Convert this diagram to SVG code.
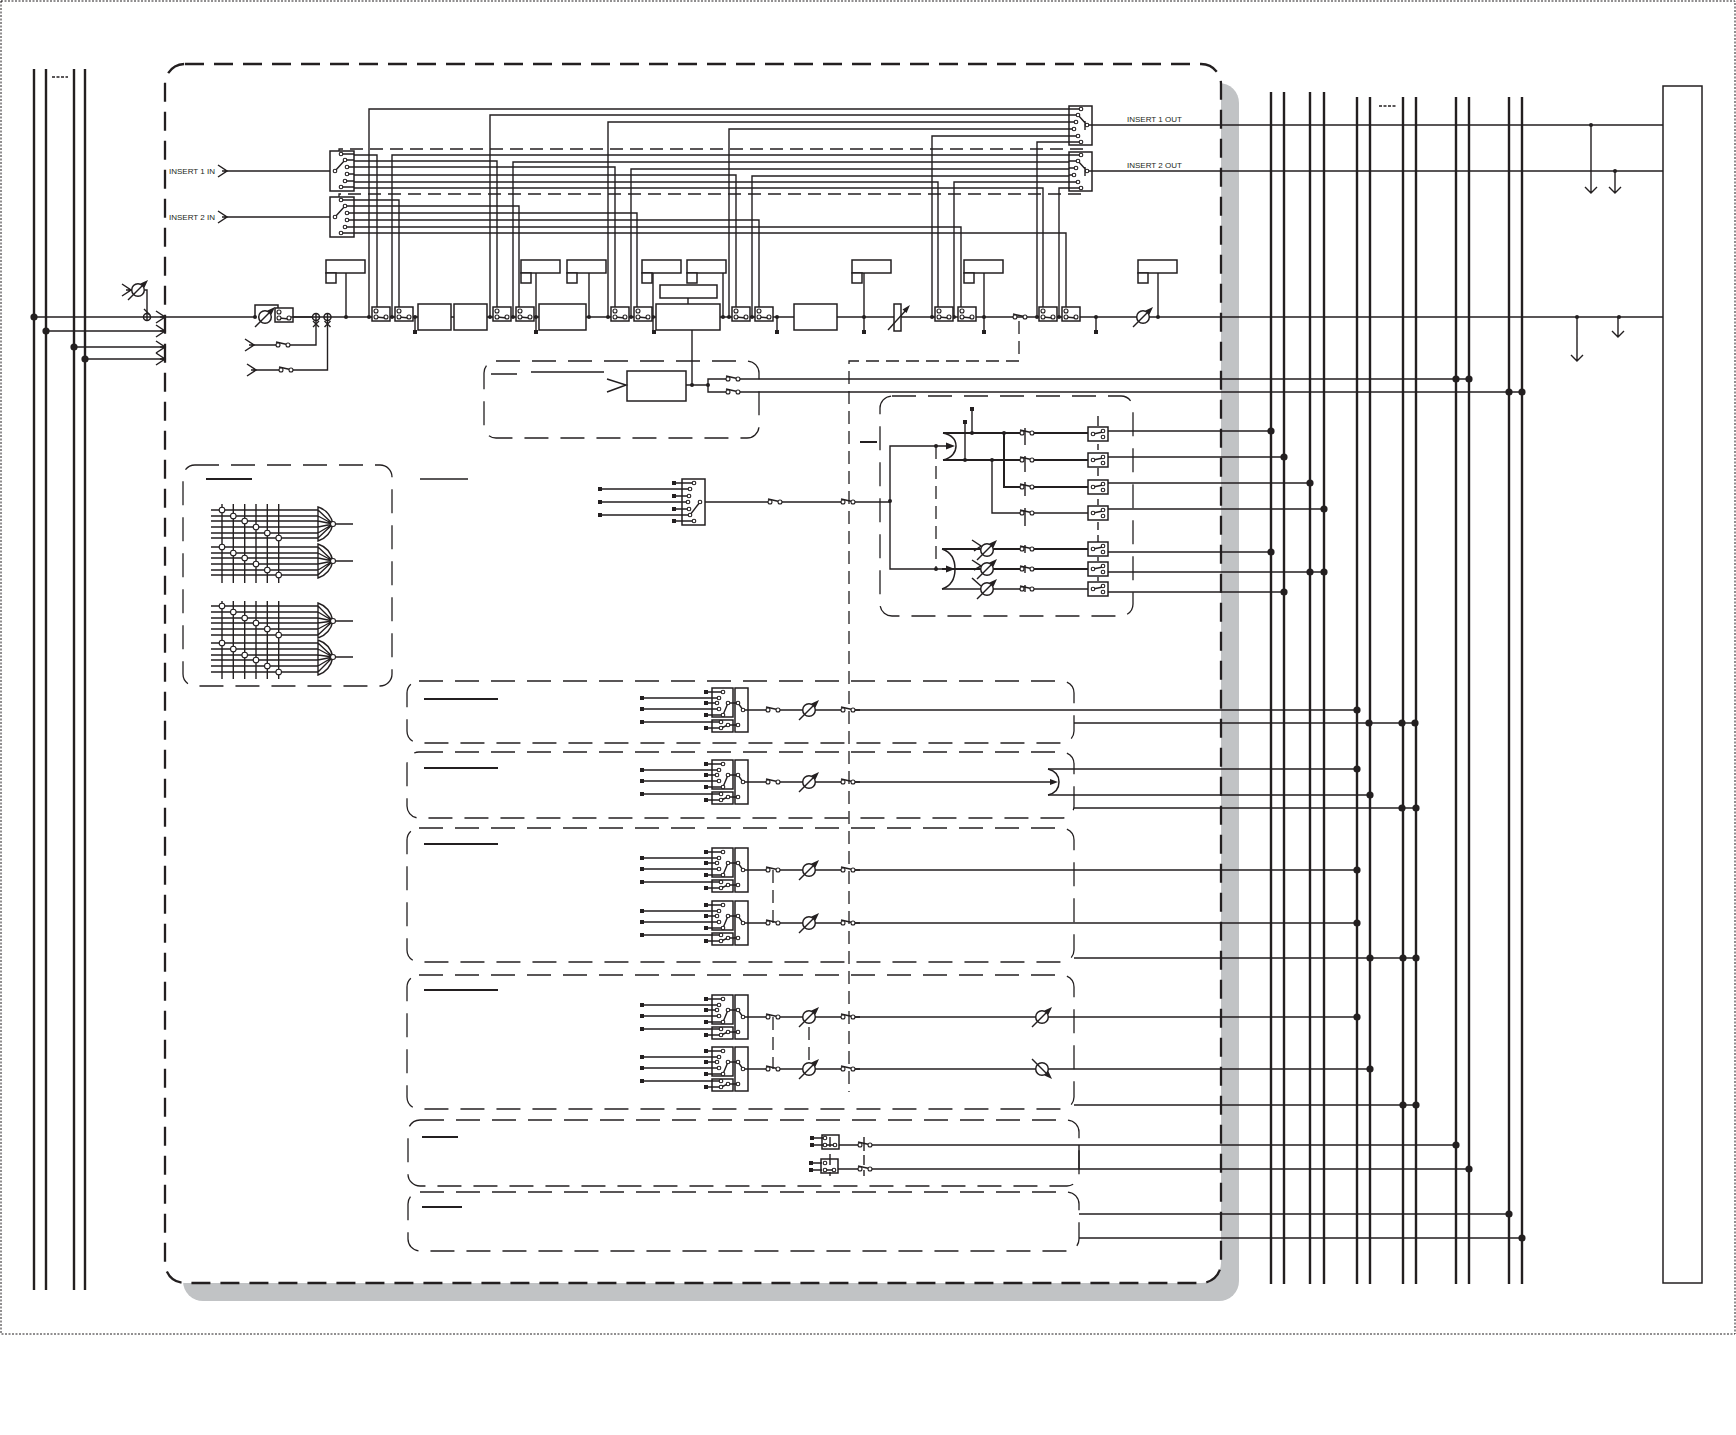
<svg xmlns="http://www.w3.org/2000/svg" width="1736" height="1435" viewBox="0 0 1736 1435">
<style>
text{font-family:"Liberation Sans",Arial,sans-serif;font-size:8px;fill:#231f20}
.l{fill:none;stroke:#231f20;stroke-width:1.4}
.m{fill:none;stroke:#231f20;stroke-width:1.6}
.h{fill:none;stroke:#231f20;stroke-width:2}
.bus{fill:none;stroke:#231f20;stroke-width:2.4}
.bx{fill:#fff;stroke:#231f20;stroke-width:1.5}
.nf{fill:none;stroke:#231f20;stroke-width:1.5}
.dash{fill:none;stroke:#231f20;stroke-width:1.3;stroke-dasharray:24 12}
.dsh2{fill:none;stroke:#231f20;stroke-width:1.3;stroke-dasharray:13 7}
.t{fill:#fff;stroke:#231f20;stroke-width:1.1}
.k{fill:#231f20}
</style>
<defs>
<circle id="d" r="2" class="k"/>
<circle id="D" r="3.6" class="k"/>
<rect id="q" x="-2" y="-2" width="4" height="4" class="k"/>
<path id="chev" class="nf" d="M-9-6L0 0L-9 6M-5 0H0"/>
<g id="sw"><path class="l" d="M-2-3L8-.8"/><circle r="2" class="t"/><circle cx="10" r="2" class="t"/></g>
<g id="sb"><rect width="18" height="14" class="bx"/><path class="l" d="M4 10L14 11"/><circle cx="4" cy="4" r="2" class="t"/><circle cx="4" cy="10" r="2" class="t"/><circle cx="14" cy="10" r="2" class="t"/></g>
<g id="fad"><circle r="6.3" class="bx"/><path class="l" d="M-10 10L7-7"/><path class="k" d="M10-10L2.500-6.500L6.500-2.500Z"/></g>
<g id="ins"><rect width="24" height="40" class="bx"/><path class="l" d="M11 3H24M15 9H24M17 16H24M17 23H24M15 30H24M11 36H24M5 20L15 9"/><circle cx="11" cy="3" r="1.8" class="t"/><circle cx="15" cy="9" r="1.8" class="t"/><circle cx="17" cy="16" r="1.800" class="t"/><circle cx="17" cy="23" r="1.800" class="t"/><circle cx="15" cy="30" r="1.800" class="t"/><circle cx="11" cy="36" r="1.8" class="t"/><circle cx="5" cy="20" r="1.8" class="t"/></g>
<g id="outs"><rect width="23" height="39" class="bx"/><path class="l" d="M0 3H12M0 9H9M0 16H7M0 23H5M0 30H9M0 36H12M18 19L9 9M18 19H23M16 15V24"/><circle cx="12" cy="3" r="1.8" class="t"/><circle cx="9" cy="9" r="1.8" class="t"/><circle cx="7" cy="16" r="1.8" class="t"/><circle cx="5" cy="23" r="1.8" class="t"/><circle cx="9" cy="30" r="1.8" class="t"/><circle cx="12" cy="36" r="1.8" class="t"/><circle cx="18" cy="19" r="1.8" class="t"/></g>
<g id="mt"><rect width="39" height="13" class="bx"/><rect y="13" width="10" height="10" class="bx"/></g>
<g id="ob"><rect width="20" height="14" class="bx"/><path class="l" d="M5 7L15 5"/><circle cx="5" cy="7" r="1.8" class="t"/><circle cx="15" cy="4" r="1.8" class="t"/><circle cx="15" cy="10" r="1.8" class="t"/></g>
<g id="strip">
<path class="l" d="M642-12H719M642-1H719M642 12H721M706-18H723M706-7H717M706 5H723M706 18H721"/>
<use href="#q" x="642" y="-12"/><use href="#q" x="642" y="-1"/><use href="#q" x="642" y="12"/><use href="#q" x="706" y="-18"/><use href="#q" x="706" y="-7"/><use href="#q" x="706" y="5"/><use href="#q" x="706" y="18"/>
<rect x="712" y="-22" width="21" height="29" class="nf"/><rect x="712" y="10" width="21" height="12" class="nf"/><rect x="735" y="-22" width="13" height="44" class="nf"/>
<path class="l" d="M723 5L728-7H738L743 0H768M721 18L728 15H738"/>
<circle cx="723" cy="-18" r="1.8" class="t"/><circle cx="719" cy="-12" r="1.8" class="t"/><circle cx="717" cy="-7" r="1.8" class="t"/><circle cx="719" cy="-1" r="1.8" class="t"/><circle cx="723" cy="5" r="1.8" class="t"/><circle cx="728" cy="-7" r="1.8" class="t"/><circle cx="738" cy="-7" r="1.8" class="t"/><circle cx="743" r="1.8" class="t"/><circle cx="721" cy="12" r="1.8" class="t"/><circle cx="721" cy="18" r="1.8" class="t"/><circle cx="728" cy="15" r="1.8" class="t"/><circle cx="738" cy="15" r="1.8" class="t"/>
<path class="l" d="M778 0H843M853 0H860"/>
<use href="#sw" x="768"/><use href="#fad" x="809"/><use href="#sw" x="843"/>
</g>
</defs>
<rect width="1736" height="1435" fill="#fff"/>
<rect id="page-border" x="1" y="1" width="1734" height="1333" fill="none" stroke="#231f20" stroke-width="1" stroke-dasharray="2 1.500"/>
<g id="shadow"><rect x="183" y="83" width="1056" height="1218" rx="20" fill="#c1c3c5"/></g>
<g id="main-frame"><rect x="165" y="64" width="1056" height="1219" rx="20" fill="#fff" stroke="#231f20" stroke-width="2.300" stroke-dasharray="19 10"/></g>
<g id="group-frames">
<rect x="484" y="361" width="275" height="77" rx="12" class="dash"/>
<rect x="880" y="396" width="253" height="220" rx="12" class="dash"/>
<rect x="183" y="465" width="209" height="221" rx="12" class="dash"/>
<rect x="407" y="681" width="667" height="62" rx="12" class="dash"/>
<rect x="407" y="752" width="667" height="66" rx="12" class="dash"/>
<rect x="407" y="828" width="667" height="134" rx="12" class="dash"/>
<rect x="407" y="975" width="667" height="134" rx="12" class="dash"/>
<rect x="408" y="1120" width="671" height="66" rx="12" class="dash"/>
<rect x="408" y="1192" width="671" height="59" rx="12" class="dash"/>
</g>
<g id="connectors">
<path class="bus" d="M34 69V1290M46 69V1290M74 69V1290M85 69V1290M1271 92V1284M1284 92V1284M1310 92V1284M1324 92V1284M1357 97V1284M1370 97V1284M1403 97V1284M1416 97V1284M1456 97V1284M1469 97V1284M1509 97V1284M1522 97V1284"/>
<path d="M52 77H68M1379 106H1396" fill="none" stroke="#231f20" stroke-width="1.300" stroke-dasharray="3 1.500"/>
<path class="l" d="M34 317H255M46 331H165M74 347H165M85 359H165"/>
<path class="l" d="M278 317H1158M145 290H147V317"/>
<path class="m" d="M1158 317H1663M1092 125H1663M1092 171H1663"/>
<path class="l" d="M254 345H278M288 345H316V321M256 370H281M291 370H327.500V321"/>
<path class="l" d="M227 171H335M227 217H335"/>
<path class="l" d="M369 317V109H1075M490 317V115H1078M608 317V122H1076M729 317V129H1074M932 317V136H1078M1037 317V142H1081"/>
<path class="l" d="M354 155H377V311M354 161H497V311M354 167H615V311M354 175H736V311M354 182H938V311M354 188H1043V311"/>
<path class="l" d="M392 317V155H1081M513 317V162H1078M631 317V169H1076M752 317V176H1074M954 317V182H1078M1059 317V188H1081"/>
<path class="l" d="M354 200H399V311M354 206H519V311M354 213H637V311M354 220H759V311M354 227H961V311M354 233H1066V311"/>
<path class="dsh2" d="M339 158V149H1083V142M339 205V194H1084V188"/>
<path class="l" d="M346 273V317M536 273V330M589 273V317M653 273V330M723 273V317M864 273V330M984 273V330M1158 273V317M415 317V330M777 317V330M1096 317V330M688 298V304M692 330V385"/>
<path class="l" d="M692 385H686M692 385H708V379H726M708 385V392H726M604 372H531M517 374H491"/>
<path class="m" d="M738 379H1469M738 392H1522"/>
<path class="dsh2" d="M1019 321V361H849V1092"/>
<path class="l" d="M600 489H690M600 502H688M600 515H690M674 483H694M674 496H689M674 509H689M674 521H694M705 502H770M780 502H843M853 502H890"/>
<path class="l" d="M936 446H890V569H936"/>
<path class="h" d="M860 442H877"/>
<path class="dsh2" d="M936 446V569"/>
<path class="l" d="M936 446H951M936 569H951"/>
<path class="k" d="M955 446L946 442.500V449.500ZM955 569L946 565.500V572.500Z"/>
<path class="nf" d="M943 433C952 435 956 440 956 446C956 452 952 458 943 460M942 549C951 552 955 560 955 569C955 578 951 586 942 589"/>
<path class="h" d="M943 433H1022M1032 433H1088M943 460H1022M1032 460H1088M1004 433V487H1022M1032 487H1088M942 549H1022M1032 549H1088M942 569H1022M1032 569H1088"/>
<path class="l" d="M992 460V513H1022M1032 513H1088M942 589H1022M1032 589H1088M972 409V433M965 422V460"/>
<path class="l" d="M1108 431H1271M1108 457H1284M1108 483H1310M1108 509H1324M1108 552H1271M1108 572H1324M1108 592H1284"/>
<path class="l" d="M1098 416V426M1098 444V450M1098 468V476M1098 499V505M1098 522V530M1098 535V542M1098 557V561M1098 577V581"/>
<path class="l" d="M1025 428V445M1025 456V472M1025 482V496M1025 508V526M1025 545V553M1025 565V573M1025 585V592"/>
<path class="l" d="M853 710H1357M1074 723H1415M853 782H1055M1048 769H1357M1048 795H1370M1074 808H1416M853 870H1357M853 923H1357M1074 958H1416M853 1017H1357M853 1069H1370M1074 1105H1416"/>
<path class="k" d="M1058 782L1050 779V785Z"/>
<path class="nf" d="M1048 769C1056 771 1059 776 1059 782C1059 788 1056 793 1048 795"/>
<path class="dsh2" d="M773 870V923M773 1017V1069M809 1027V1060"/>
<path class="l" d="M812 1138H823M812 1145H823M811 1163H822M811 1170H822M839 1145H860M838 1169H860"/>
<path class="m" d="M870 1145H1456M870 1169H1469"/>
<path class="l" d="M1079 1145V1169M1079 1214H1509M1079 1238H1522"/>
<path class="l" d="M830 1137V1147M830 1154V1165M830 1172V1176M864 1137V1151M864 1155V1165M864 1170V1176"/>
<path class="l" d="M1591 125V193M1585 187L1591 193L1597 187M1615 171V193M1609 187L1615 193L1621 187M1577 317V361M1571 355L1577 361L1583 355M1618 317V337M1612 331L1618 337L1624 331"/>
<use href="#D" x="34" y="317"/><use href="#D" x="46" y="331"/><use href="#D" x="74" y="347"/><use href="#D" x="85" y="359"/>
<use href="#d" x="255" y="317"/><use href="#d" x="346" y="317"/><use href="#d" x="369" y="317"/><use href="#d" x="392" y="317"/><use href="#d" x="415" y="317"/><use href="#d" x="490" y="317"/><use href="#d" x="513" y="317"/><use href="#d" x="536" y="317"/><use href="#d" x="589" y="317"/><use href="#d" x="608" y="317"/><use href="#d" x="631" y="317"/><use href="#d" x="653" y="317"/><use href="#d" x="723" y="317"/><use href="#d" x="729" y="317"/><use href="#d" x="752" y="317"/><use href="#d" x="777" y="317"/><use href="#d" x="864" y="317"/><use href="#d" x="932" y="317"/><use href="#d" x="954" y="317"/><use href="#d" x="984" y="317"/><use href="#d" x="1037" y="317"/><use href="#d" x="1059" y="317"/><use href="#d" x="1096" y="317"/><use href="#d" x="1158" y="317"/>
<use href="#d" x="692" y="385"/><use href="#d" x="708" y="385"/><use href="#d" x="890" y="501"/><use href="#d" x="936" y="446"/><use href="#d" x="936" y="569"/><use href="#d" x="972" y="433"/><use href="#d" x="965" y="460"/><use href="#d" x="1004" y="433"/><use href="#d" x="992" y="460"/>
<use href="#d" x="1591" y="125"/><use href="#d" x="1615" y="171"/><use href="#d" x="1577" y="317"/><use href="#d" x="1619" y="317"/>
<use href="#D" x="1456" y="379"/><use href="#D" x="1469" y="379"/><use href="#D" x="1509" y="392"/><use href="#D" x="1522" y="392"/>
<use href="#D" x="1271" y="431"/><use href="#D" x="1284" y="457"/><use href="#D" x="1310" y="483"/><use href="#D" x="1324" y="509"/><use href="#D" x="1271" y="552"/><use href="#D" x="1310" y="572"/><use href="#D" x="1324" y="572"/><use href="#D" x="1284" y="592"/>
<use href="#D" x="1357" y="710"/><use href="#D" x="1369" y="723"/><use href="#D" x="1402" y="723"/><use href="#D" x="1415" y="723"/><use href="#D" x="1357" y="769"/><use href="#D" x="1370" y="795"/><use href="#D" x="1402" y="808"/><use href="#D" x="1416" y="808"/><use href="#D" x="1357" y="870"/><use href="#D" x="1357" y="923"/><use href="#D" x="1370" y="958"/><use href="#D" x="1403" y="958"/><use href="#D" x="1416" y="958"/><use href="#D" x="1357" y="1017"/><use href="#D" x="1370" y="1069"/><use href="#D" x="1403" y="1105"/><use href="#D" x="1416" y="1105"/>
<use href="#D" x="1456" y="1145"/><use href="#D" x="1469" y="1169"/><use href="#D" x="1509" y="1214"/><use href="#D" x="1522" y="1238"/>
</g>
<g id="frame-inputs"><use href="#chev" x="165" y="317"/><use href="#chev" x="165" y="331"/><use href="#chev" x="165" y="347"/><use href="#chev" x="165" y="359"/></g>
<g id="group-header-lines"><path class="h" d="M206 479H252M424 699H498M424 768H498M424 844H498M424 990H498M422 1137H458M422 1207H462"/><path class="l" d="M420 479H468"/></g>
<g id="side-fader"><use href="#chev" x="131" y="290"/><path class="l" d="M131 290H132"/><use href="#fad" x="138" y="290"/></g>
<g id="sum-1"><circle cx="147" cy="317" r="3.500" class="bx"/><path class="l" d="M143.500 317H150.500M147 313.500V320.500M144 309L150 315"/></g>
<g id="sum-2"><circle cx="316" cy="317" r="3.500" class="bx"/><path class="l" d="M312.500 317H319.500M316 313.500V320.500M313 327L319 321M313 321L319 327"/></g>
<g id="sum-3"><circle cx="327.500" cy="317" r="3.500" class="bx"/><path class="l" d="M324 317H331M327.500 313.500V320.500M324.500 327L330.500 321M324.500 321L330.500 327"/></g>
<g id="input-fader"><path class="nf" d="M255 317V305H278V309"/><use href="#fad" x="265" y="317"/><use href="#sb" x="275" y="308"/><path class="l" d="M291 317H312"/></g>
<g id="aux-in-1"><use href="#chev" x="254" y="345"/><use href="#sw" x="278" y="345"/></g>
<g id="aux-in-2"><use href="#chev" x="256" y="370"/><use href="#sw" x="281" y="370"/></g>
<g id="insert-1-in"><text x="169" y="174">INSERT 1 IN</text><use href="#chev" x="227" y="171"/><use href="#ins" x="330" y="151"/></g>
<g id="insert-2-in"><text x="169" y="220">INSERT 2 IN</text><use href="#chev" x="227" y="217"/><use href="#ins" x="330" y="197"/></g>
<g id="insert-1-out"><use href="#outs" x="1069" y="106"/><text x="1127" y="122">INSERT 1 OUT</text></g>
<g id="insert-2-out"><use href="#outs" x="1069" y="152"/><text x="1127" y="168">INSERT 2 OUT</text></g>
<g id="insert-switches">
<use href="#sb" x="372" y="307"/><use href="#sb" x="395" y="307"/><use href="#sb" x="493" y="307"/><use href="#sb" x="516" y="307"/><use href="#sb" x="611" y="307"/><use href="#sb" x="634" y="307"/><use href="#sb" x="732" y="307"/><use href="#sb" x="755" y="307"/><use href="#sb" x="935" y="307"/><use href="#sb" x="958" y="307"/><use href="#sb" x="1039" y="307"/><use href="#sb" x="1062" y="307"/>
</g>
<g id="block-1"><rect x="418" y="304" width="33" height="26" class="bx"/></g>
<g id="block-2"><rect x="454" y="304" width="33" height="26" class="bx"/></g>
<g id="block-3"><rect x="539" y="304" width="47" height="26" class="bx"/></g>
<g id="block-4"><rect x="656" y="304" width="64" height="26" class="bx"/></g>
<g id="block-5"><rect x="660" y="285" width="57" height="13" class="bx"/></g>
<g id="block-6"><rect x="794" y="304" width="43" height="26" class="bx"/></g>
<g id="meters"><use href="#mt" x="326" y="260"/><use href="#mt" x="521" y="260"/><use href="#mt" x="567" y="260"/><use href="#mt" x="642" y="260"/><use href="#mt" x="687" y="260"/><use href="#mt" x="852" y="260"/><use href="#mt" x="964" y="260"/><use href="#mt" x="1138" y="260"/></g>
<g id="stem-squares"><use href="#q" x="415" y="332"/><use href="#q" x="536" y="332"/><use href="#q" x="654" y="332"/><use href="#q" x="777" y="332"/><use href="#q" x="864" y="332"/><use href="#q" x="984" y="332"/><use href="#q" x="1096" y="332"/></g>
<g id="att"><rect x="894" y="304" width="7" height="27" class="bx"/><path class="l" d="M888 330L907 309"/><path class="k" d="M910 305L902.500 309.500L906.500 313Z"/></g>
<g id="main-sw"><use href="#sw" x="1015" y="317"/></g>
<g id="out-fader"><use href="#fad" x="1143" y="317"/></g>
<g id="return-block"><rect x="627" y="371" width="59" height="30" class="bx"/><path class="nf" d="M607 379L626 385L607 392"/><use href="#sw" x="728" y="379"/><use href="#sw" x="728" y="392"/></g>
<g id="selector"><rect x="682" y="479" width="23" height="46" class="nf"/><path class="l" d="M690 515L700 502"/>
<use href="#q" x="600" y="489"/><use href="#q" x="600" y="502"/><use href="#q" x="600" y="515"/><use href="#q" x="674" y="483"/><use href="#q" x="674" y="496"/><use href="#q" x="674" y="509"/><use href="#q" x="674" y="521"/>
<circle cx="694" cy="483" r="1.8" class="t"/><circle cx="690" cy="489" r="1.8" class="t"/><circle cx="689" cy="496" r="1.8" class="t"/><circle cx="688" cy="502" r="1.8" class="t"/><circle cx="689" cy="509" r="1.8" class="t"/><circle cx="690" cy="515" r="1.8" class="t"/><circle cx="694" cy="521" r="1.8" class="t"/><circle cx="700" cy="502" r="1.8" class="t"/>
<use href="#sw" x="770" y="502"/><use href="#sw" x="843" y="502"/></g>
<g id="output-switches">
<use href="#q" x="972" y="409"/><use href="#q" x="965" y="422"/>
<use href="#sw" x="1022" y="433"/><use href="#sw" x="1022" y="460"/><use href="#sw" x="1022" y="487"/><use href="#sw" x="1022" y="513"/><use href="#sw" x="1022" y="549"/><use href="#sw" x="1022" y="569"/><use href="#sw" x="1022" y="589"/>
<use href="#ob" x="1088" y="427"/><use href="#ob" x="1088" y="453"/><use href="#ob" x="1088" y="480"/><use href="#ob" x="1088" y="506"/><use href="#ob" x="1088" y="542"/><use href="#ob" x="1088" y="562"/><use href="#ob" x="1088" y="582"/>
<path class="nf" d="M972 540L981 546L974 551M972 560L981 566L974 570M972 578L981 586"/>
<use href="#fad" x="987" y="550"/><use href="#fad" x="987" y="569"/><use href="#fad" x="987" y="589"/>
</g>
<g id="matrix">
<path class="l" d="M222 504V583M233.300 504V583M244.700 504V583M256 504V583M267.300 504V583M278.700 504V583M211 510H318M211 516H318M211 521H318M211 527H318M211 533H318M211 538H318M211 547H318M211 553H318M211 558H318M211 564H318M211 570H318M211 575H318M222 601V679M233.300 601V679M244.700 601V679M256 601V679M267.300 601V679M278.700 601V679M211 606H318M211 612H318M211 618H318M211 623H318M211 629H318M211 635H318M211 643H318M211 649H318M211 655H318M211 660H318M211 666H318M211 672H318"/>
<path class="l" d="M318 507Q330 511 333 524Q330 537 318 541ZM318 510L333 524M318 516L333 524M318 521L333 524M318 527L333 524M318 533L333 524M318 538L333 524M333 524H353M318 544Q330 548 333 561Q330 574 318 578ZM318 547L333 561M318 553L333 561M318 558L333 561M318 564L333 561M318 570L333 561M318 575L333 561M333 561H353M318 603Q330 607 333 621Q330 634 318 638ZM318 606L333 621M318 612L333 621M318 618L333 621M318 623L333 621M318 629L333 621M318 635L333 621M333 621H353M318 640Q330 644 333 657Q330 671 318 675ZM318 643L333 657M318 649L333 657M318 655L333 657M318 660L333 657M318 666L333 657M318 672L333 657M333 657H353"/>
<g fill="#fff" stroke="#231f20" stroke-width="1.100"><circle cx="222" cy="510" r="2.800"/><circle cx="233.300" cy="516" r="2.800"/><circle cx="244.700" cy="521" r="2.800"/><circle cx="256" cy="527" r="2.800"/><circle cx="267.300" cy="533" r="2.800"/><circle cx="278.700" cy="538" r="2.800"/><circle cx="222" cy="547" r="2.800"/><circle cx="233.300" cy="553" r="2.800"/><circle cx="244.700" cy="558" r="2.800"/><circle cx="256" cy="564" r="2.800"/><circle cx="267.300" cy="570" r="2.800"/><circle cx="278.700" cy="575" r="2.800"/><circle cx="222" cy="606" r="2.800"/><circle cx="233.300" cy="612" r="2.800"/><circle cx="244.700" cy="618" r="2.800"/><circle cx="256" cy="623" r="2.800"/><circle cx="267.300" cy="629" r="2.800"/><circle cx="278.700" cy="635" r="2.800"/><circle cx="222" cy="643" r="2.800"/><circle cx="233.300" cy="649" r="2.800"/><circle cx="244.700" cy="655" r="2.800"/><circle cx="256" cy="660" r="2.800"/><circle cx="267.300" cy="666" r="2.800"/><circle cx="278.700" cy="672" r="2.800"/><circle cx="333" cy="524" r="2.500"/><circle cx="333" cy="561" r="2.500"/><circle cx="333" cy="621" r="2.500"/><circle cx="333" cy="657" r="2.500"/></g>
</g>
<g id="strip-1"><use href="#strip" y="710"/></g>
<g id="strip-2"><use href="#strip" y="782"/></g>
<g id="strip-3"><use href="#strip" y="870"/></g>
<g id="strip-4"><use href="#strip" y="923"/></g>
<g id="strip-5"><use href="#strip" y="1017"/></g>
<g id="strip-6"><use href="#strip" y="1069"/></g>
<g id="trim-1"><use href="#fad" x="1042" y="1017"/></g>
<g id="trim-2"><circle cx="1042" cy="1069" r="6.300" class="bx"/><path class="l" d="M1032 1059L1048 1075"/><path class="k" d="M1052 1079L1044.500 1075.500L1048.500 1071.500Z"/></g>
<g id="row5"><use href="#q" x="812" y="1138"/><use href="#q" x="812" y="1145"/><use href="#q" x="811" y="1163"/><use href="#q" x="811" y="1170"/>
<rect x="822" y="1135" width="17" height="14" class="nf"/><rect x="821" y="1159" width="17" height="14" class="nf"/>
<path class="l" d="M825 1145H835M825 1170L834 1170"/>
<circle cx="825" cy="1138" r="1.800" class="t"/><circle cx="825" cy="1145" r="1.800" class="t"/><circle cx="835" cy="1145" r="1.800" class="t"/><circle cx="825" cy="1163" r="1.800" class="t"/><circle cx="825" cy="1170" r="1.800" class="t"/><circle cx="834" cy="1170" r="1.800" class="t"/>
<use href="#sw" x="860" y="1145"/><use href="#sw" x="860" y="1169"/></g>
<g id="output-block"><rect x="1663" y="86" width="39" height="1197" fill="none" stroke="#231f20" stroke-width="1.500"/></g>
</svg>
